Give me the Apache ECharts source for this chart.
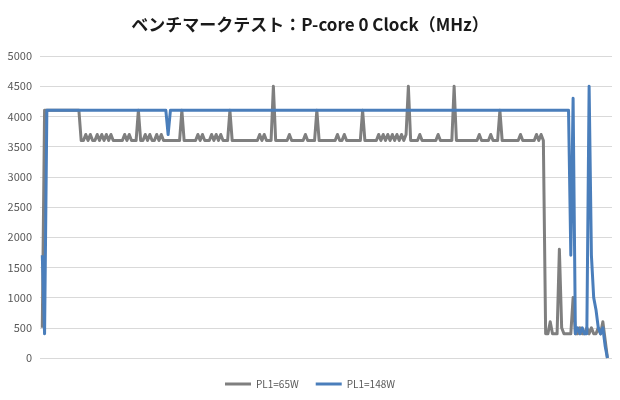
<!DOCTYPE html>
<html>
<head>
<meta charset="utf-8">
<script src="https://cdn.jsdelivr.net/npm/echarts@6/dist/echarts.min.js"></script>
<style>
html,body{margin:0;padding:0;background:#fff;}
#c{width:620px;height:400px;}
</style>
</head>
<body>
<div id="c"></div>
<script>
var seriesNames = ['PL1=65W', 'PL1=148W'];
var yTicks = [0, 500, 1000, 1500, 2000, 2500, 3000, 3500, 4000, 4500, 5000];

var pl65 = [
500,4100,4100,4100,4100,4100,4100,4100,4100,4100,
4100,4100,4100,4100,4100,4100,4100,3600,3600,3700,
3600,3700,3600,3600,3700,3600,3700,3600,3700,3600,
3700,3600,3600,3600,3600,3600,3700,3600,3700,3600,
3600,3600,4100,3600,3600,3700,3600,3700,3600,3600,
3700,3600,3700,3600,3600,3600,3600,3600,3600,3600,
3600,4100,3600,3600,3600,3600,3600,3600,3700,3600,
3700,3600,3600,3600,3700,3600,3700,3600,3700,3600,
3600,3600,4100,3600,3600,3600,3600,3600,3600,3600,
3600,3600,3600,3600,3600,3700,3600,3700,3600,3600,
3600,4500,3600,3600,3600,3600,3600,3600,3700,3600,
3600,3600,3600,3600,3600,3700,3600,3600,3600,3600,
4100,3600,3600,3600,3600,3600,3600,3600,3600,3700,
3600,3600,3700,3600,3600,3600,3600,3600,3600,3600,
4100,3600,3600,3600,3600,3600,3600,3700,3600,3700,
3600,3700,3600,3700,3600,3700,3600,3700,3600,3700,
4500,3600,3600,3600,3600,3700,3600,3600,3600,3600,
3600,3600,3600,3700,3600,3600,3600,3600,3600,3600,
4500,3600,3600,3600,3600,3600,3600,3600,3600,3600,
3600,3700,3600,3600,3600,3600,3700,3600,3600,3600,
4100,3600,3600,3600,3600,3600,3600,3600,3600,3700,
3600,3600,3600,3600,3600,3600,3700,3600,3700,3600,
400,400,600,400,400,400,1800,500,400,400,
400,400,1000,400,400,500,400,400,500,400,
500,400,400,500,400,600,300,0
];

var pl148 = [
1700,400,4100,4100,4100,4100,4100,4100,4100,4100,
4100,4100,4100,4100,4100,4100,4100,4100,4100,4100,
4100,4100,4100,4100,4100,4100,4100,4100,4100,4100,
4100,4100,4100,4100,4100,4100,4100,4100,4100,4100,
4100,4100,4100,4100,4100,4100,4100,4100,4100,4100,
4100,4100,4100,4100,4100,3700,4100,4100,4100,4100,
4100,4100,4100,4100,4100,4100,4100,4100,4100,4100,
4100,4100,4100,4100,4100,4100,4100,4100,4100,4100,
4100,4100,4100,4100,4100,4100,4100,4100,4100,4100,
4100,4100,4100,4100,4100,4100,4100,4100,4100,4100,
4100,4100,4100,4100,4100,4100,4100,4100,4100,4100,
4100,4100,4100,4100,4100,4100,4100,4100,4100,4100,
4100,4100,4100,4100,4100,4100,4100,4100,4100,4100,
4100,4100,4100,4100,4100,4100,4100,4100,4100,4100,
4100,4100,4100,4100,4100,4100,4100,4100,4100,4100,
4100,4100,4100,4100,4100,4100,4100,4100,4100,4100,
4100,4100,4100,4100,4100,4100,4100,4100,4100,4100,
4100,4100,4100,4100,4100,4100,4100,4100,4100,4100,
4100,4100,4100,4100,4100,4100,4100,4100,4100,4100,
4100,4100,4100,4100,4100,4100,4100,4100,4100,4100,
4100,4100,4100,4100,4100,4100,4100,4100,4100,4100,
4100,4100,4100,4100,4100,4100,4100,4100,4100,4100,
4100,4100,4100,4100,4100,4100,4100,4100,4100,4100,
4100,1700,4300,400,500,400,500,400,400,4500,
1700,1000,800,500,400,500,200,0
];

function toPairs(arr) {
  return arr.map(function (v, i) { return [i, v]; });
}

var chart = echarts.init(document.getElementById('c'), null, {renderer: 'canvas'});
var font = "'Noto Sans CJK JP', 'Noto Sans', sans-serif";
chart.setOption({
  animation: false,
  backgroundColor: '#ffffff',
  title: {
    text: 'ベンチマークテスト：P-core 0 Clock（MHz）',
    left: 'center',
    top: 11,
    textStyle: {fontFamily: font, fontSize: 17, fontWeight: 'bold', color: '#1a1a1a'}
  },
  legend: {
    data: seriesNames,
    bottom: 6,
    left: 'center',
    icon: 'rect',
    itemWidth: 26,
    itemHeight: 3,
    itemGap: 17,
    textStyle: {fontFamily: font, fontSize: 10, color: '#595959'}
  },
  grid: {left: 40, right: 8, top: 56, bottom: 42, containLabel: false},
  xAxis: {
    type: 'value',
    min: -1,
    max: pl65.length + 1,
    show: false,
    splitLine: {show: false}
  },
  yAxis: {
    type: 'value',
    min: yTicks[0],
    max: yTicks[yTicks.length - 1],
    interval: yTicks[1] - yTicks[0],
    axisLine: {show: false},
    axisTick: {show: false},
    axisLabel: {fontFamily: font, fontSize: 11, color: '#595959', margin: 8,
      formatter: function (v) { return String(v); }},
    splitLine: {lineStyle: {color: '#d9d9d9', width: 1}}
  },
  series: [
    {
      name: seriesNames[0],
      type: 'line',
      data: toPairs(pl65),
      showSymbol: false,
      symbol: 'none',
      lineStyle: {color: '#7f7f7f', width: 3, join: 'round'},
      itemStyle: {color: '#7f7f7f'}
    },
    {
      name: seriesNames[1],
      type: 'line',
      data: toPairs(pl148),
      showSymbol: false,
      symbol: 'none',
      lineStyle: {color: '#4a7ebb', width: 3, join: 'round'},
      itemStyle: {color: '#4a7ebb'}
    }
  ]
});
</script>
</body>
</html>
